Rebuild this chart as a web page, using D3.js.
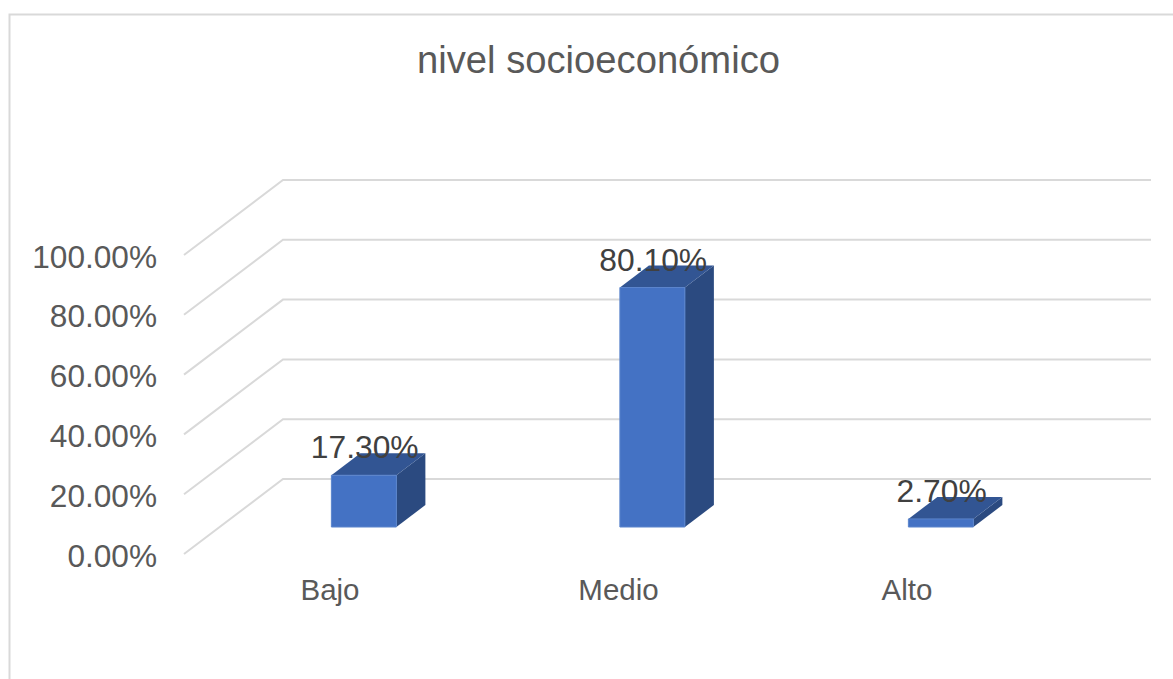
<!DOCTYPE html>
<html><head><meta charset="utf-8">
<script src="https://cdn.jsdelivr.net/npm/d3@7"></script>
<style>html,body{margin:0;padding:0;background:#fff;overflow:hidden}svg{display:block}text{font-family:"Liberation Sans",Arial,sans-serif}</style>
</head><body><svg id="c" width="1173" height="679"></svg>
<script>
const categories = ["Bajo","Medio","Alto"];
const values = [17.3,80.1,2.7];
const valueLabels = ["17.30%","80.10%","2.70%"];
const yTicks = [0,20,40,60,80,100];
const title = "nivel socioeconómico";

const svg = d3.select("#c");
const frontX0 = 184, frontX1 = 1049.5, gridEnd = 1151, frontBase = 554;
const depthX = 99, depthY = 75;
const x = d3.scaleBand().domain(categories).range([frontX0,frontX1]);
const y = d3.scaleLinear().domain([0,100]).range([frontBase,frontBase-299]);
const barW = 65, near = 0.36, far = 0.653;
const grey = "#d9d9d9";

svg.append("path").attr("d","M9.5,679V14.5H1173").attr("fill","none").attr("stroke",grey).attr("stroke-width",2);
svg.append("text").attr("x",598.5).attr("y",72.5).attr("text-anchor","middle").attr("font-size",38.2).attr("fill","#595959").text(title);

const grid = svg.append("g");
yTicks.forEach(t=>{
  const yy = y(t);
  grid.append("path").attr("fill","none").attr("stroke",grey).attr("stroke-width",2)
    .attr("d",d3.line()([[frontX0,yy],[frontX0+depthX,yy-depthY],[gridEnd,yy-depthY]]));
});

svg.append("g").selectAll("text").data(yTicks).join("text")
  .attr("x",157).attr("y",d=>y(d)+12.5).attr("text-anchor","end").attr("font-size",31.6).attr("fill","#595959")
  .text(d=>d3.format(".2f")(d)+"%");

svg.append("g").selectAll("text").data(categories).join("text")
  .attr("x",d=>x(d)+x.bandwidth()/2+1.75).attr("y",600).attr("text-anchor","middle").attr("font-size",29.5).attr("fill","#595959").text(d=>d);

const dx = depthX*(far-near), dy = depthY*(far-near);
const bars = svg.append("g").selectAll("g").data(categories).join("g");
const geo = i=>{
  const c = categories[i];
  const l = x(c)+x.bandwidth()/2+depthX*near-barW/2;
  const b = frontBase-depthY*near;
  const h = frontBase-y(values[i]);
  return {l,r:l+barW,b,t:b-h};
};
const poly = p=>"M"+p.join("L")+"Z";
bars.append("path").attr("fill","#2b4a80").attr("d",(d,i)=>{const g=geo(i);return poly([[g.r,g.b],[g.r+dx,g.b-dy],[g.r+dx,g.t-dy],[g.r,g.t]]);});
bars.append("path").attr("fill","#325593").attr("d",(d,i)=>{const g=geo(i);return poly([[g.l,g.t],[g.r,g.t],[g.r+dx,g.t-dy],[g.l+dx,g.t-dy]]);});
bars.append("path").attr("fill","#4472c4").attr("stroke","#5b84cc").attr("stroke-width",1).attr("d",(d,i)=>{const g=geo(i);return poly([[g.l,g.b],[g.r,g.b],[g.r,g.t],[g.l,g.t]]);});

svg.append("g").selectAll("text").data(categories).join("text")
  .attr("x",(d,i)=>geo(i).l+33.3).attr("y",(d,i)=>geo(i).t-16.8).attr("text-anchor","middle")
  .attr("font-size",31.8).attr("fill","#404040").text((d,i)=>valueLabels[i]);
</script></body></html>
